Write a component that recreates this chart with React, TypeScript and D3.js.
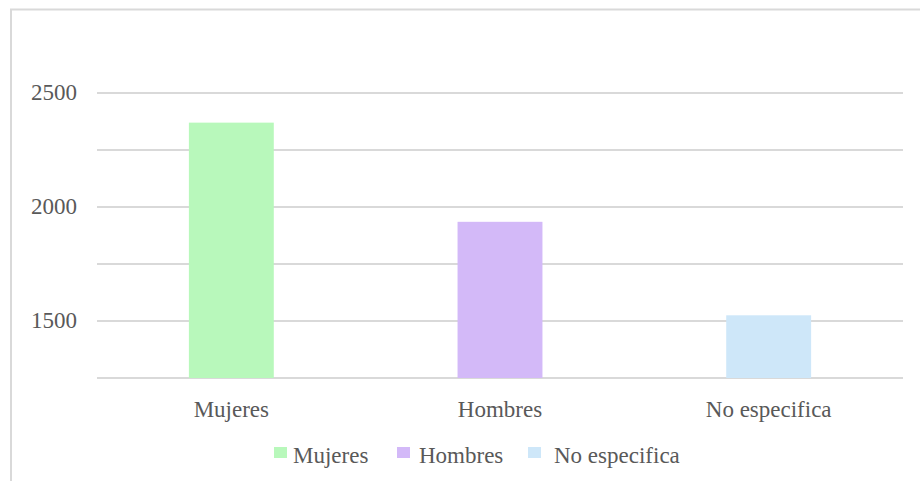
import React from "react";
import * as d3 from "d3";

const categories = ["Mujeres", "Hombres", "No especifica"];
const values = [2370, 1935, 1525];
const colors = ["#b8f8bb", "#d3b9f8", "#cee7f9"];
const yTicks = [1250, 1500, 1750, 2000, 2250, 2500];
const yTickLabels = [1500, 2000, 2500];

const W = 920;
const H = 481;
const FONT = "Liberation Serif, Times New Roman, serif";
const TEXT = "#595959";
const GRID = "#d9d9d9";

export default function App() {
  const left = 97;
  const right = 903;
  const top = 93;
  const bottom = 378;

  const x = d3.scaleBand<string>().domain(categories).range([left, right]).padding(0);
  const y = d3.scaleLinear().domain([1250, 2500]).range([bottom, top]);
  const barW = x.bandwidth() * 0.316;

  const legendX = [274, 397, 528];
  const legendTextDx = [19, 22, 26];

  return (
    <svg
      width={W}
      height={H}
      style={{ position: "absolute", left: 0, top: 0, display: "block", background: "#fff", fontFamily: FONT }}
    >
      <rect x={11} y={9.5} width={W + 10} height={H + 10} fill="#fff" stroke={GRID} strokeWidth={2} />
      {yTicks.map((t) => (
        <line key={t} x1={left} x2={right} y1={y(t)} y2={y(t)} stroke={GRID} strokeWidth={2} />
      ))}
      {yTickLabels.map((t) => (
        <text
          key={t}
          x={77}
          y={y(t) + 7}
          textAnchor="end"
          fontSize={23}
          fill={TEXT}
          style={{ fontFamily: FONT }}
        >
          {t}
        </text>
      ))}
      {categories.map((c, i) => (
        <rect
          key={c}
          x={(x(c) as number) + x.bandwidth() / 2 - barW / 2}
          y={y(values[i])}
          width={barW}
          height={y(1250) - y(values[i])}
          fill={colors[i]}
        />
      ))}
      {categories.map((c) => (
        <text
          key={c}
          x={(x(c) as number) + x.bandwidth() / 2}
          y={417}
          textAnchor="middle"
          fontSize={23}
          fill={TEXT}
          style={{ fontFamily: FONT }}
        >
          {c}
        </text>
      ))}
      {categories.map((c, i) => (
        <g key={c} transform={`translate(${legendX[i]},0)`}>
          <rect x={0} y={447} width={13} height={11} fill={colors[i]} />
          <text x={legendTextDx[i]} y={463} fontSize={23} fill={TEXT} style={{ fontFamily: FONT }}>
            {c}
          </text>
        </g>
      ))}
    </svg>
  );
}
